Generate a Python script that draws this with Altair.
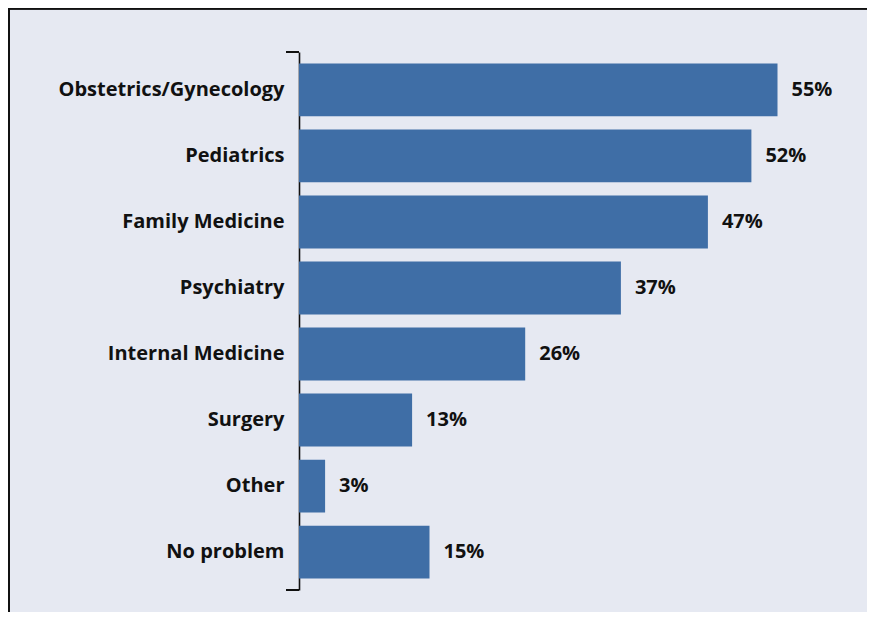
import altair as alt
import pandas as pd

categories = ["Obstetrics/Gynecology", "Pediatrics", "Family Medicine", "Psychiatry",
              "Internal Medicine", "Surgery", "Other", "No problem"]
values = [55, 52, 47, 37, 26, 13, 3, 15]
labels = [f"{v}%" for v in values]

df = pd.DataFrame({"category": categories, "value": values, "label": labels})

W, H = 522, 538
BG = "#e6e9f2"
BAR = "#3f6ea6"
FONT = "Open Sans"
FS = 20

y_enc = alt.Y("category:N", sort=categories, title=None,
              scale=alt.Scale(paddingInner=0.2, paddingOuter=0.175),
              axis=alt.Axis(ticks=False, domain=True, domainColor="#111111", domainWidth=1.6,
                            labelPadding=15, labelFont=FONT, labelFontSize=FS,
                            labelFontWeight="bold", labelColor="#111111", labelLimit=400))
x_enc = alt.X("value:Q", scale=alt.Scale(domain=[0, 60], nice=False), axis=None)

bars = alt.Chart(df).mark_bar(color=BAR).encode(x=x_enc, y=y_enc)
text = alt.Chart(df).mark_text(align="left", baseline="middle", dx=14, font=FONT,
                               fontSize=FS, fontWeight="bold", color="#111111").encode(
    x=x_enc, y=alt.Y("category:N", sort=categories), text="label:N")

# bracket end ticks on the axis
tick_top = alt.Chart(df).mark_rule(color="#111111", strokeWidth=1.6).encode(
    x=alt.value(-13), x2=alt.value(0), y=alt.value(0))
tick_bot = alt.Chart(df).mark_rule(color="#111111", strokeWidth=1.6).encode(
    x=alt.value(-13), x2=alt.value(0), y=alt.value(H))

# frame lines (left and top)
frame_left = alt.Chart(df).mark_rule(color="#111111", strokeWidth=2).encode(
    x=alt.value(-290), y=alt.value(-44), y2=alt.value(H + 60))
frame_top = alt.Chart(df).mark_rule(color="#111111", strokeWidth=1.5).encode(
    x=alt.value(-291), x2=alt.value(W + 80), y=alt.value(-43.5))

chart = alt.layer(bars, text, tick_top, tick_bot, frame_left, frame_top).properties(
    width=W, height=H, background=BG,
    autosize=alt.AutoSizeParams(type="none"),
    padding={"left": 291, "top": 44, "right": 46, "bottom": 22},
).configure_view(stroke=None)

chart.save("out.html", embed_options={"renderer": "svg", "actions": False})
